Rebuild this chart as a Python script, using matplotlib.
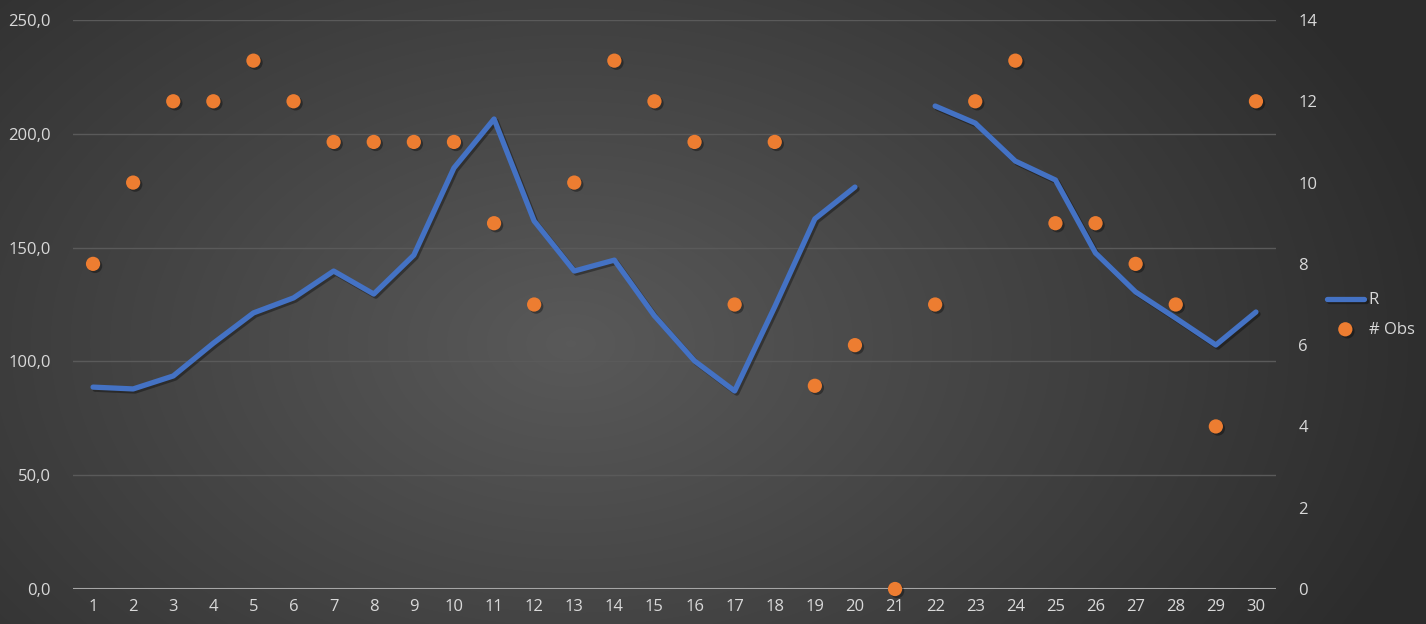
import matplotlib
matplotlib.use("Agg")
import matplotlib.pyplot as plt
import matplotlib.patheffects as pe
import numpy as np
from matplotlib.ticker import FuncFormatter, MultipleLocator

plt.rcParams["font.family"] = ["Open Sans", "DejaVu Sans"]

DAYS = list(range(1, 31))
R_VALUES = [88.7, 87.9, 93.6, 108.0, 121.3, 127.9, 139.7, 129.6, 146.7, 185.0,
            206.5, 161.7, 139.7, 144.5, 120.0, 100.2, 87.0, 124.0, 162.6, 176.6,
            None, 212.2, 204.7, 188.0, 179.7, 147.6, 130.5, 119.0, 107.2, 121.7]
OBS = [8, 10, 12, 12, 13, 12, 11, 11, 11, 11,
       9, 7, 10, 13, 12, 11, 7, 11, 5, 6,
       0, 7, 12, 13, 9, 9, 8, 7, 4, 12]

LINE_COLOR = "#4472c4"
DOT_COLOR = "#ed7d31"
TEXT_COLOR = "#d9d9d9"
GRID_COLOR = "#5a5a5a"

fig = plt.figure(figsize=(14.26, 6.24), dpi=100)

# radial gradient background
bg = fig.add_axes([0, 0, 1, 1], zorder=0)
h, w = 624, 1426
yy, xx = np.mgrid[0:h, 0:w]
d = np.sqrt(((xx - w * 0.40) / (w * 0.62)) ** 2 + ((yy - h * 0.55) / (h * 0.95)) ** 2)
d = np.clip(d, 0, 1)
shade = 0.35 - 0.175 * d
bg.imshow(np.dstack([shade, shade, shade]), aspect="auto", extent=[0, 1, 0, 1])
bg.axis("off")

ax = fig.add_axes([73 / 1426, 35 / 624, (1276 - 73) / 1426, (589 - 20) / 624], zorder=1)
ax.patch.set_alpha(0)
ax2 = ax.twinx()
ax2.patch.set_alpha(0)

r = np.array([np.nan if v is None else v for v in R_VALUES])
shadow = [pe.SimpleLineShadow(offset=(1.5, -1.5), shadow_color="black", alpha=0.35), pe.Normal()]
ax.plot(DAYS, r, color=LINE_COLOR, lw=3.8, solid_capstyle="round",
        solid_joinstyle="round", label="R", path_effects=shadow, zorder=3)

sc = ax2.scatter(DAYS, OBS, s=105, color=DOT_COLOR, label="# Obs", zorder=4,
                 edgecolors="none", clip_on=False)
sc.set_path_effects([pe.SimplePatchShadow(offset=(1.5, -1.5), shadow_rgbFace="black",
                                          alpha=0.35), pe.Normal()])

ax.set_xlim(0.5, 30.5)
ax.set_ylim(0, 250)
ax2.set_ylim(0, 14)
ax.yaxis.set_major_locator(MultipleLocator(50))
ax2.yaxis.set_major_locator(MultipleLocator(2))
ax.yaxis.set_major_formatter(FuncFormatter(lambda v, p: f"{v:.1f}".replace(".", ",")))
ax.set_xticks(DAYS)

ax.grid(axis="y", color=GRID_COLOR, lw=1)
ax.set_axisbelow(True)
for a in (ax, ax2):
    for s in a.spines.values():
        s.set_visible(False)
    a.tick_params(length=0, colors=TEXT_COLOR, labelsize=12)
ax.axhline(0, color="#a6a6a6", lw=1.5, zorder=2)
ax.tick_params(axis="y", pad=16)
ax2.tick_params(axis="y", pad=16)
ax.tick_params(axis="x", pad=7)

h1, l1 = ax.get_legend_handles_labels()
h2, l2 = ax2.get_legend_handles_labels()
leg = fig.legend(h1 + h2, l1 + l2, loc="center left", bbox_to_anchor=(1312 / 1426, 1 - 315 / 624),
                 frameon=False, fontsize=12, labelcolor=TEXT_COLOR, handlelength=2.2,
                 handletextpad=0.3, labelspacing=0.8)

fig.savefig("out.png", dpi=100)
